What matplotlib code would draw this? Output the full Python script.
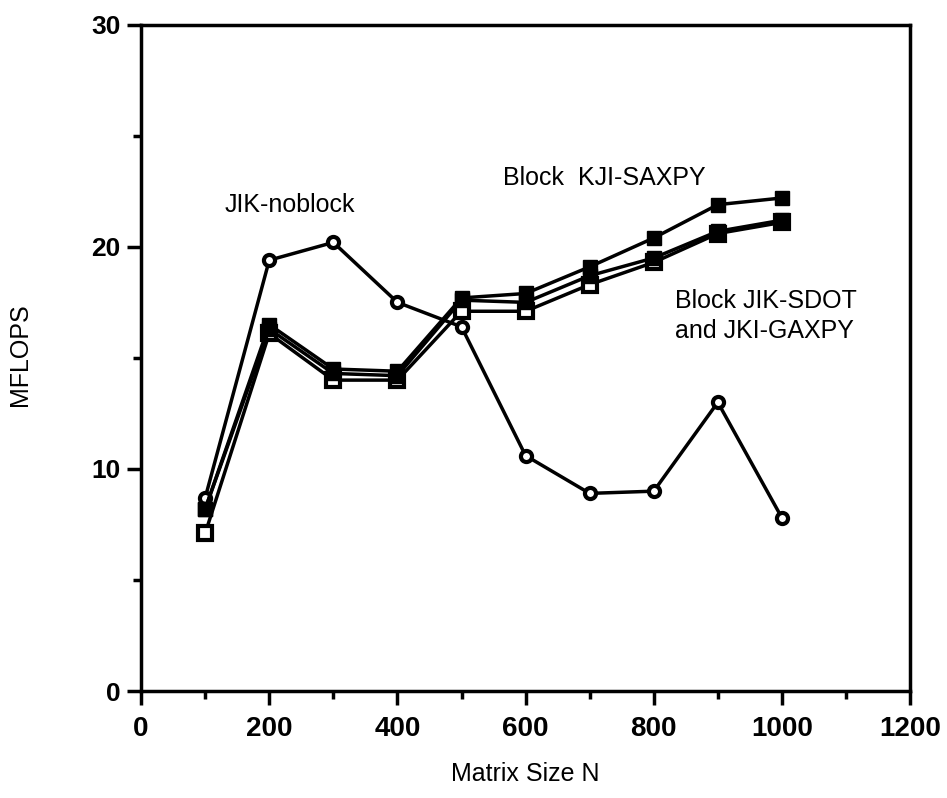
import matplotlib
matplotlib.use("Agg")
import matplotlib.pyplot as plt
from matplotlib.ticker import MultipleLocator

plt.rcParams['font.family'] = ['Liberation Sans', 'DejaVu Sans']

# Matrix sizes and MFLOPS readings
sizes = [100, 200, 300, 400, 500, 600, 700, 800, 900, 1000]
jik_noblock = [8.7, 19.4, 20.2, 17.5, 16.4, 10.6, 8.9, 9.0, 13.0, 7.8]
kji_saxpy = [8.2, 16.5, 14.5, 14.4, 17.7, 17.9, 19.1, 20.4, 21.9, 22.2]
jki_gaxpy = [8.2, 16.3, 14.3, 14.2, 17.6, 17.5, 18.7, 19.5, 20.7, 21.2]
jik_sdot = [7.1, 16.1, 14.0, 14.0, 17.1, 17.1, 18.3, 19.3, 20.6, 21.1]

fig = plt.figure(figsize=(9.47, 7.98), dpi=100)
ax = fig.add_axes([0.149, 0.134, 0.812, 0.835])

ax.plot(sizes, jik_noblock, color='black', lw=2.5, marker='o', ms=8,
        mfc='white', mec='black', mew=3, zorder=3)
ax.plot(sizes, jik_sdot, color='black', lw=2.5, marker='s', ms=10,
        mfc='white', mec='black', mew=3, zorder=4)
ax.plot(sizes, jki_gaxpy, color='black', lw=2.5, marker='s', ms=10,
        mfc='black', mec='black', zorder=4)
ax.plot(sizes, kji_saxpy, color='black', lw=2.5, marker='s', ms=10,
        mfc='black', mec='black', zorder=4)

ax.set_xlim(0, 1200)
ax.set_ylim(0, 30)
ax.xaxis.set_major_locator(MultipleLocator(200))
ax.xaxis.set_minor_locator(MultipleLocator(100))
ax.yaxis.set_major_locator(MultipleLocator(10))
ax.yaxis.set_minor_locator(MultipleLocator(5))
ax.tick_params(which='both', direction='out', width=2.5, top=False, right=False)
ax.tick_params(which='major', length=10, pad=8)
ax.tick_params(axis='y', which='major', pad=5)
ax.tick_params(which='minor', length=6)
for lbl in ax.get_xticklabels():
    lbl.set_fontsize(20)
    lbl.set_fontweight('bold')
for lbl in ax.get_yticklabels():
    lbl.set_fontsize(19)
    lbl.set_fontweight('bold')
for s in ax.spines.values():
    s.set_linewidth(2.5)

ax.text(130, 21.9, 'JIK-noblock', fontsize=18, va='center')
ax.text(565, 23.1, 'Block  KJI-SAXPY', fontsize=18, va='center')
ax.text(833, 16.9, 'Block JIK-SDOT\nand JKI-GAXPY', fontsize=18, va='center',
        linespacing=1.3)

ax.set_xlabel('Matrix Size N', fontsize=18)
ax.set_ylabel('MFLOPS', fontsize=18)
ax.xaxis.set_label_coords(0.5, -0.107)
ax.yaxis.set_label_coords(-0.142, 0.505)

fig.savefig('out.png', dpi=100)
